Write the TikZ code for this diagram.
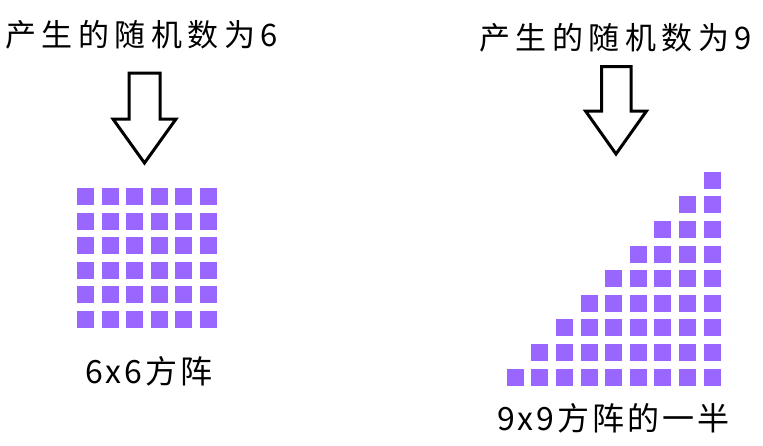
\documentclass[tikz,border=0pt]{standalone}
\usepackage{fontspec}
\newfontfamily\cjkfont{Noto Sans CJK SC}
\definecolor{sqpurple}{HTML}{9966FF}
\newcommand\tgapx{\kern5.5pt}
\newcommand\lgapx{\kern3pt}
\begin{document}
\begin{tikzpicture}[x=1pt,y=-1pt,
  titletext/.style={anchor=base west,inner sep=0pt,font=\cjkfont\fontsize{31}{31}\selectfont},
  labeltext/.style={anchor=base west,inner sep=0pt,font=\cjkfont\fontsize{32}{32}\selectfont},
  bigarrow/.style={draw=black,line width=3pt,fill=white,line join=miter},
  sq/.style={fill=sqpurple,draw=none}]
\useasboundingbox (0,0) rectangle (763,445);
% titles
\node[titletext] (t1) at (5,46) {产\tgapx 生\tgapx 的\tgapx 随\tgapx 机\tgapx 数\tgapx 为\tgapx 6};
\node[titletext] (t2) at (479,49) {产\tgapx 生\tgapx 的\tgapx 随\tgapx 机\tgapx 数\tgapx 为\tgapx 9};
% arrows
\draw[bigarrow] (129,73) -- (160,73) -- (160,119) -- (176,119) -- (144.5,163) -- (113,119) -- (129,119) -- cycle;
\draw[bigarrow] (601.5,66.5) -- (631,66.5) -- (631,111) -- (646.5,111) -- (616,154) -- (585.5,111) -- (601.5,111) -- cycle;
% left grid
\foreach \r in {0,...,5}{
  \foreach \c in {0,...,5}{
    \fill[sq] ({77+\c*24.5},{188+\r*24.5}) rectangle ++(17,17);
  }
}
% right grid (staircase)
\foreach \r in {0,...,8}{
  \pgfmathtruncatemacro{\cs}{8-\r}
  \foreach \c in {\cs,...,8}{
    \fill[sq] ({506.7+\c*24.6},{171.7+\r*24.6}) rectangle ++(17,17);
  }
}
% labels
\node[labeltext] (l1) at (85,383) {6\lgapx x\lgapx 6\lgapx 方\lgapx 阵};
\node[labeltext] (l2) at (497,430) {9\lgapx x\lgapx 9\lgapx 方\lgapx 阵\lgapx 的\lgapx 一\lgapx 半};
\end{tikzpicture}
\end{document}
